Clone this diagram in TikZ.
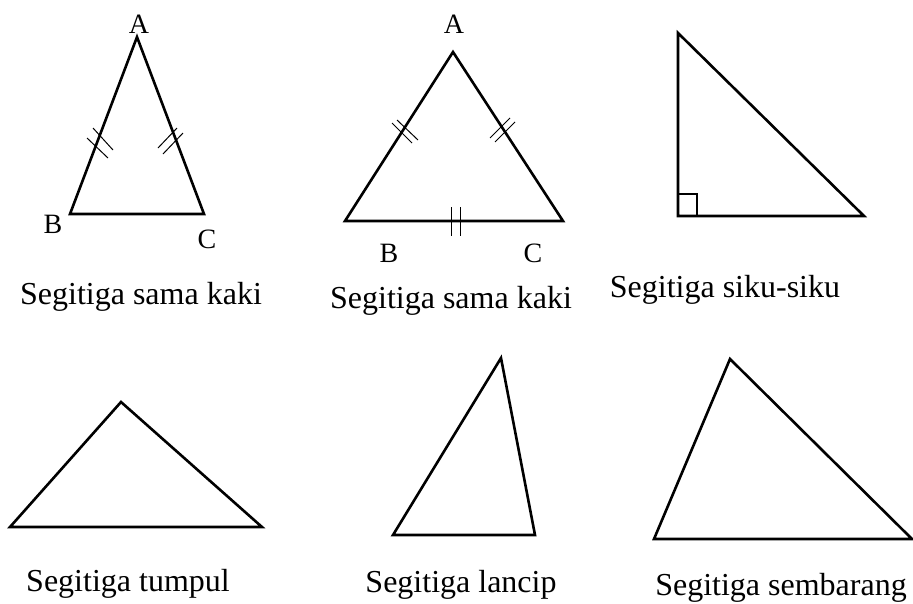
\documentclass[tikz,border=0pt]{standalone}
\usepackage{fontspec}
\setmainfont{Liberation Serif}
\tikzset{
  tri/.style={draw,line width=2.6pt,line join=miter},
  tick/.style={draw,line width=1pt},
  anglebox/.style={draw,line width=2pt},
  caption/.style={anchor=base,inner sep=0pt,font=\fontsize{32}{38}\selectfont},
  vlabel/.style={anchor=base,inner sep=0pt,font=\fontsize{28}{32}\selectfont},
}

\begin{document}
\begin{tikzpicture}[x=1pt,y=-1pt]
  \useasboundingbox (0,0) rectangle (913,603);
  % sama kaki (1)
  \coordinate (A1) at (137,37);
  \coordinate (B1) at (70,214);
  \coordinate (C1) at (204,214);
  \draw[tri] (A1) -- (B1) -- (C1) -- cycle;
  \draw[tick] (87,138) -- (108,158) (93,128) -- (113,150);
  \draw[tick] (158,148) -- (177,128) (163,154) -- (183,133);
  \node[vlabel] (lA1) at (139,33) {A};
  \node[vlabel] (lB1) at (53,233) {B};
  \node[vlabel] (lC1) at (207,248) {C};
  \node[caption] (cap1) at (141,304) {Segitiga sama kaki};
  % sama kaki (2)
  \coordinate (A2) at (453,52);
  \coordinate (B2) at (345,221);
  \coordinate (C2) at (563,221);
  \draw[tri] (A2) -- (B2) -- (C2) -- cycle;
  \draw[tick] (392,123) -- (412,143) (397,120) -- (418,140);
  \draw[tick] (490,138) -- (510,118) (495,142) -- (515,122);
  \draw[tick] (451,207) -- (451,236) (460,207) -- (460,236);
  \node[vlabel] (lA2) at (454,33) {A};
  \node[vlabel] (lB2) at (389,262) {B};
  \node[vlabel] (lC2) at (533,262) {C};
  \node[caption] (cap2) at (451,308) {Segitiga sama kaki};
  % siku-siku
  \coordinate (R1) at (678,33);
  \coordinate (R2) at (678,216);
  \coordinate (R3) at (864,216);
  \draw[tri] (R1) -- (R2) -- (R3) -- cycle;
  \draw[anglebox] (R2) rectangle ++(19,-22);
  \node[caption] (cap3) at (725,297) {Segitiga siku-siku};
  % tumpul
  \coordinate (T1) at (121,402);
  \coordinate (T2) at (10,527);
  \coordinate (T3) at (262,527);
  \draw[tri] (T1) -- (T2) -- (T3) -- cycle;
  \node[caption] (cap4) at (128,591) {Segitiga tumpul};
  % lancip
  \coordinate (L1) at (501,358);
  \coordinate (L2) at (393,535);
  \coordinate (L3) at (535,535);
  \draw[tri] (L1) -- (L2) -- (L3) -- cycle;
  \node[caption] (cap5) at (461,592) {Segitiga lancip};
  % sembarang
  \coordinate (S1) at (730,359);
  \coordinate (S2) at (654,539);
  \coordinate (S3) at (912,539);
  \draw[tri] (S1) -- (S2) -- (S3) -- cycle;
  \node[caption] (cap6) at (781,595) {Segitiga sembarang};
\end{tikzpicture}
\end{document}
